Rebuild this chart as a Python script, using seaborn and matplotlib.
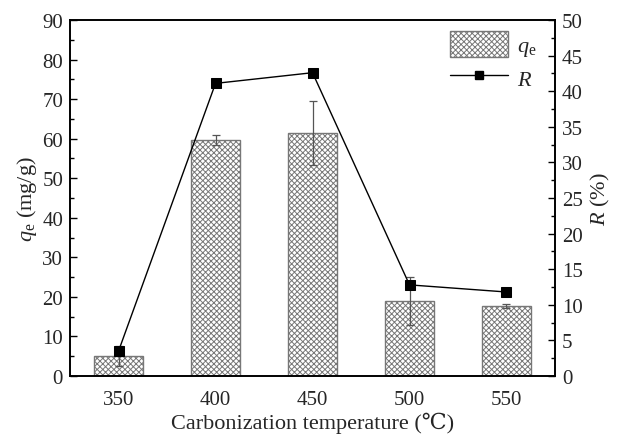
import numpy as np
import pandas as pd
import matplotlib
matplotlib.use("Agg")
import matplotlib.pyplot as plt
import seaborn as sns
from matplotlib.ticker import MultipleLocator
from matplotlib.patches import Patch
from matplotlib.lines import Line2D

temperatures = ["350", "400", "450", "500", "550"]
qe_values = [5.0, 59.7, 61.4, 19.0, 17.7]
qe_errors = [2.5, 1.3, 8.0, 6.0, 0.5]
r_values = [3.5, 41.1, 42.6, 12.8, 11.8]

sns.set_theme(style="white")
plt.rcParams["font.family"] = ["Liberation Serif", "DejaVu Serif"]
plt.rcParams["mathtext.fontset"] = "custom"
plt.rcParams["mathtext.rm"] = "Liberation Serif"
plt.rcParams["mathtext.it"] = "Liberation Serif:italic"
plt.rcParams["hatch.color"] = "#3a3a3a"
plt.rcParams["hatch.linewidth"] = 0.7

df = pd.DataFrame({"T": temperatures, "qe": qe_values, "err": qe_errors, "R": r_values})

fig = plt.figure(figsize=(6.17, 4.35), dpi=100)
ax = fig.add_axes([0.1135, 0.1333, 0.786, 0.8184])

sns.barplot(data=df, x="T", y="qe", ax=ax, color="white", width=0.5,
            edgecolor="#777777", linewidth=1.0, errorbar=None)
for bar in ax.patches:
    bar.set_hatch("xxxxxx")
ax.errorbar(np.arange(len(temperatures)), qe_values, yerr=qe_errors, fmt="none",
            ecolor="#555555", elinewidth=0.9, capsize=3, capthick=0.9, zorder=3)

ax.set_xlim(-0.5, 4.5)
ax.set_ylim(0, 90)
ax.yaxis.set_major_locator(MultipleLocator(10))
ax.yaxis.set_minor_locator(MultipleLocator(5))
ax.set_xlabel("Carbonization temperature (℃)", fontsize=16, labelpad=2)
ax.set_ylabel(r"$q_{\mathrm{e}}$ (mg/g)", fontsize=16, labelpad=2)

ax2 = ax.twinx()
sns.lineplot(x=np.arange(len(temperatures)), y=r_values, ax=ax2, color="black",
             marker="s", markersize=7, linewidth=1.0, markeredgecolor="black")
ax2.set_ylim(0, 50)
ax2.yaxis.set_major_locator(MultipleLocator(5))
ax2.yaxis.set_minor_locator(MultipleLocator(2.5))
ax2.set_ylabel(r"$R$ (%)", fontsize=16, labelpad=4)

for a in (ax, ax2):
    for s in a.spines.values():
        s.set_color("black")
        s.set_linewidth(1.2)
ax.tick_params(axis="both", which="both", direction="in", labelsize=15,
               color="black", top=False, right=False)
ax.tick_params(axis="y", which="major", length=5, width=1.0, left=True, pad=5)
ax.tick_params(axis="y", which="minor", length=3, width=1.0, left=True)
ax.tick_params(axis="x", which="major", length=4, width=1.0, bottom=True, pad=10)
ax2.tick_params(axis="y", which="both", direction="in", labelsize=15, right=True,
                color="black", pad=5)
ax2.tick_params(axis="y", which="major", length=5, width=1.0)
ax2.tick_params(axis="y", which="minor", length=3, width=1.0)

handles = [
    Patch(facecolor="white", edgecolor="#777777", hatch="xxxxxx", label=r"$q_{\mathrm{e}}$"),
    Line2D([0], [0], color="black", marker="s", markersize=6, linewidth=1.0, label=r"$R$"),
]
if ax2.get_legend() is not None:
    ax2.get_legend().remove()
ax2.legend(handles=handles, loc="upper right", frameon=False, fontsize=16,
           handlelength=2.6, handleheight=1.4, handletextpad=0.4,
           borderaxespad=0.1, labelspacing=0.3, bbox_to_anchor=(0.985, 1.0))

fig.savefig("out.png", dpi=100)
